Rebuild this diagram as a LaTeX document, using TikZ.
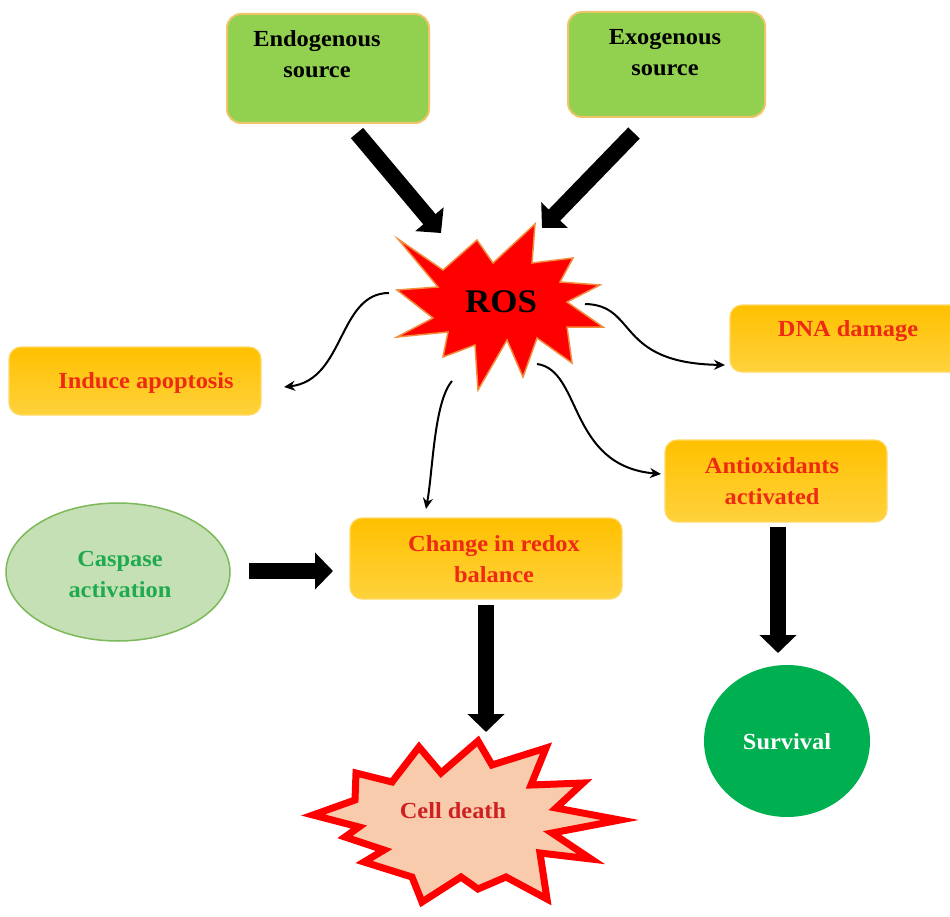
\documentclass[tikz,border=0pt]{standalone}
\usepackage{fontspec}
\setmainfont{Liberation Serif}[FakeStretch=1.06]
\usetikzlibrary{arrows.meta,calc,shapes.geometric}
\definecolor{gfill}{HTML}{92D050}
\definecolor{gborder}{HTML}{EFC56A}
\definecolor{otop}{HTML}{FFC000}
\definecolor{obot}{HTML}{FFD23C}
\definecolor{oborder}{HTML}{FFD966}
\definecolor{tred}{HTML}{EE2A12}
\definecolor{rosborder}{HTML}{F08C3C}
\definecolor{cfill}{HTML}{C5E0B4}
\definecolor{cborder}{HTML}{7DB85A}
\definecolor{ctext}{HTML}{1FAA50}
\definecolor{sgreen}{HTML}{00B050}
\definecolor{peach}{HTML}{F8CBAD}
\definecolor{cdtext}{HTML}{D02020}
\begin{document}
\begin{tikzpicture}[x=1pt,y=-1pt,
  gbox/.style={draw=gborder, line width=2pt, fill=gfill, rounded corners=14pt, inner sep=0pt},
  obox/.style={draw=oborder, line width=1.2pt, top color=otop, bottom color=obot, rounded corners=12pt, inner sep=0pt},
  txt/.style={font=\fontsize{23}{31}\selectfont\bfseries, align=center, inner sep=0pt},
  bigarrow/.style={line width=16pt, -{Triangle[width=36pt,length=18pt]}},
  thinarrow/.style={line width=2pt, -{Stealth[length=11pt,width=10pt]}}]
\useasboundingbox (0,0) rectangle (950,917);

% top source boxes
\node[gbox, minimum width=202pt, minimum height=109pt] (endo) at (328,68.5) {};
\node[txt] (endot) at (317,54) {Endogenous\\source};
\node[gbox, minimum width=197pt, minimum height=105pt] (exo) at (666.5,64.5) {};
\node[txt] (exot) at (665,53) {Exogenous\\source};

% ROS star
\filldraw[fill=red, draw=rosborder, line width=1.5pt, line join=miter]
  (398,239) -- (443,270) -- (477,240) -- (493,263) -- (535,224) -- (532,263)
  -- (573,258) -- (560,282) -- (600,285) -- (567,302) -- (603,327) -- (567,327)
  -- (572,363) -- (537,338) -- (523,377) -- (507,340) -- (478,390) -- (475,345)
  -- (443,357) -- (448,332) -- (397,337) -- (433,318) -- (397,290) -- (438,287) -- cycle;
\node[font=\fontsize{33}{33}\selectfont\bfseries, inner sep=0pt] (ros) at (501,302) {ROS};

% orange boxes
\node[obox, minimum width=252pt, minimum height=68pt] (apop) at (135,381) {};
\node[txt, text=tred] (apopt) at (146,383) {Induce apoptosis};
\node[obox, minimum width=240pt, minimum height=67pt] (dna) at (850,338.5) {};
\node[txt, text=tred] (dnat) at (848,331) {DNA damage};
\node[obox, minimum width=222pt, minimum height=82pt] (anti) at (776,481) {};
\node[txt, text=tred] (antit) at (772,481) {Antioxidants\\activated};
\node[obox, minimum width=272pt, minimum height=81pt] (redox) at (486,558.5) {};
\node[txt, text=tred] (redoxt) at (494,559) {Change in redox\\balance};

% caspase ellipse
\node[ellipse, draw=cborder, fill=cfill, line width=1.5pt, minimum width=224pt, minimum height=138pt, inner sep=0pt] (casp) at (118,572) {};
\node[txt, text=ctext] (caspt) at (120,574) {Caspase\\activation};

% survival
\node[ellipse, fill=sgreen, minimum width=166pt, minimum height=152pt, inner sep=0pt] (surv) at (787,741) {};
\node[txt, text=white] (survt) at (787,742) {Survival};

% cell death star
\filldraw[fill=peach, draw=red, line width=7pt, line join=miter, miter limit=10]
  (478,741) -- (492,765) -- (546,748) -- (531,785) -- (583,783) -- (556,808)
  -- (620,820) -- (552,833) -- (591,859) -- (540,853) -- (547,899) -- (506,877)
  -- (478,889) -- (461,877) -- (422,902) -- (412,877) -- (364,862) -- (384,850)
  -- (345,837) -- (359,827) -- (313,815) -- (355,800) -- (356,773) -- (392,782)
  -- (419,747) -- (441,773) -- cycle;
\node[txt, text=cdtext] (cdt) at (453,811) {Cell death};

% thick arrows
\coordinate (a1s) at (357,133);
\coordinate (a1e) at (441,233);
\coordinate (a2s) at (634,133);
\coordinate (a2e) at (542,228);
\coordinate (a3s) at (249,571);
\coordinate (a3e) at (333,571);
\coordinate (a4s) at (486,605);
\coordinate (a4e) at (486,732);
\coordinate (a5s) at (778,527);
\coordinate (a5e) at (778,653);
\draw[bigarrow] (a1s) -- (a1e);
\draw[bigarrow] (a2s) -- (a2e);
\draw[bigarrow] (a3s) -- (a3e);
\draw[bigarrow] (a4s) -- (a4e);
\draw[bigarrow] (a5s) -- (a5e);

% thin curved arrows
\coordinate (c1s) at (389,293);
\coordinate (c1e) at (284,387);
\coordinate (c2s) at (585,304);
\coordinate (c2e) at (725,365);
\coordinate (c3s) at (452,381);
\coordinate (c3e) at (426,509);
\coordinate (c4s) at (537,364);
\coordinate (c4e) at (661,474);
\draw[thinarrow] (c1s) .. controls (338,293) and (345,380) .. (c1e);
\draw[thinarrow] (c2s) .. controls (638,305) and (615,363) .. (c2e);
\draw[thinarrow] (c3s) .. controls (434,402) and (433,470) .. (c3e);
\draw[thinarrow] (c4s) .. controls (582,370) and (568,466) .. (c4e);
\end{tikzpicture}
\end{document}
